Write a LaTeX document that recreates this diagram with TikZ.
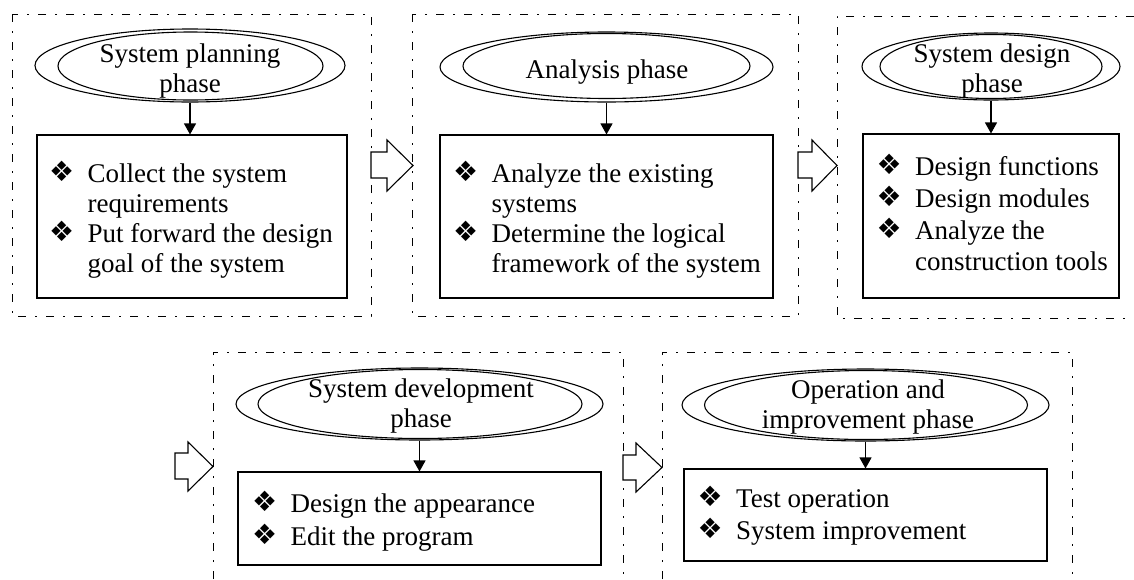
\documentclass[tikz,border=0pt]{standalone}
\usepackage{fontspec}
\setmainfont{Liberation Serif}
\newfontfamily\dv{DejaVu Sans}
\usetikzlibrary{shapes.geometric,arrows.meta}
\newcommand{\bul}{\makebox[38.5pt][l]{\raisebox{1pt}[0pt][0pt]{\dv\fontsize{28}{28}\selectfont ❖}}}
\newcommand{\ind}{\hspace*{38.5pt}}
\tikzset{
  frame/.style={line width=1pt, dash pattern=on 8pt off 9pt on 2pt off 9pt},
  phase/.style={ellipse, draw, line width=1.1pt, inner sep=0pt},
  inner/.style={line width=1.1pt},
  box/.style={draw, line width=1.1pt, inner sep=0pt},
  txt/.style={inner sep=0pt, align=left, anchor=north west},
  ttl/.style={inner sep=0pt, align=center, font=\fontsize{27}{30}\selectfont},
  conn/.style={line width=1.1pt, -{Triangle[length=11pt,width=12pt]}},
  blk/.style={line width=1.1pt, fill=white, line join=miter}
}
\begin{document}
\begin{tikzpicture}[x=1pt,y=-1pt]
\useasboundingbox (0,0) rectangle (1134,579);
% frames
\draw[frame] (12,14) rectangle (371,316);
\draw[frame] (412,14) rectangle (798,316);
\draw[frame] (1134,16) -- (837,16) -- (837,318) -- (1134,318);
\draw[frame] (213,579) -- (213,352) -- (623,352) -- (623,579);
\draw[frame] (662,579) -- (662,352) -- (1072,352) -- (1072,579);
% block arrows
\draw[blk] (371,152) -- (387,152) -- (387,140) -- (413,165.5) -- (387,191) -- (387,178) -- (371,178) -- cycle;
\draw[blk] (798,152) -- (812,152) -- (812,140) -- (837,165.5) -- (812,191) -- (812,178) -- (798,178) -- cycle;
\draw[blk] (175,453) -- (188,453) -- (188,442) -- (213,466.5) -- (188,491) -- (188,479) -- (175,479) -- cycle;
\draw[blk] (623,455) -- (636,455) -- (636,443) -- (662,467.5) -- (636,492) -- (636,480) -- (623,480) -- cycle;
% phase ellipses
\node[phase, minimum width=310pt, minimum height=73pt] (e1) at (190,65.5) {};
\draw[inner] (190.5,66) ellipse [x radius=132.5pt, y radius=34pt];
\node[phase, minimum width=333pt, minimum height=70pt] (e2) at (606.5,67) {};
\draw[inner] (606.5,66) ellipse [x radius=143.5pt, y radius=32.5pt];
\node[phase, minimum width=258pt, minimum height=67pt] (e3) at (991,66.5) {};
\draw[inner] (991,66.5) ellipse [x radius=111pt, y radius=32pt];
\node[phase, minimum width=367pt, minimum height=72pt] (e4) at (419.5,404) {};
\draw[inner] (420,404) ellipse [x radius=162pt, y radius=34.5pt];
\node[phase, minimum width=367pt, minimum height=72pt] (e5) at (865.5,405) {};
\draw[inner] (866,405) ellipse [x radius=161.5pt, y radius=34.5pt];
% phase titles
\node[ttl] (te1) at (190,71.3) {System planning\\phase};
\node[ttl] (te2) at (607,71.8) {Analysis phase};
\node[ttl] (te3) at (992,70.8) {System design\\phase};
\node[ttl] (te4) at (421,405.8) {System development\\phase};
\node[ttl] (te5) at (868,406.8) {Operation and\\improvement phase};
% boxes
\node[box, minimum width=310pt, minimum height=163pt] (b1) at (192,216.5) {};
\node[box, minimum width=333pt, minimum height=163pt] (b2) at (606.5,216.5) {};
\node[box, minimum width=256pt, minimum height=164pt] (b3) at (991,216) {};
\node[box, minimum width=363pt, minimum height=93pt] (b4) at (419.5,518.5) {};
\node[box, minimum width=363pt, minimum height=92pt] (b5) at (865.5,515) {};
% box texts
\node[txt, font=\fontsize{27}{30}\selectfont] (t1) at (49,163.5)
  {\bul Collect the system\\\ind requirements\\\bul Put forward the design\\\ind goal of the system};
\node[txt, font=\fontsize{27}{30}\selectfont] (t2) at (453,163.5)
  {\bul Analyze the existing\\\ind systems\\\bul Determine the logical\\\ind framework of the system};
\node[txt, font=\fontsize{27}{31.7}\selectfont] (t3) at (876.5,156.5)
  {\bul Design functions\\\bul Design modules\\\bul Analyze the\\\ind construction tools};
\node[txt, font=\fontsize{27}{33}\selectfont] (t4) at (252,493.5)
  {\bul Design the appearance\\\bul Edit the program};
\node[txt, font=\fontsize{27}{32}\selectfont] (t5) at (697.5,489.5)
  {\bul Test operation\\\bul System improvement};
% connectors
\draw[conn] (e1.south) -- (e1.south |- b1.north);
\draw[conn] (e2.south) -- (e2.south |- b2.north);
\draw[conn] (e3.south) -- (e3.south |- b3.north);
\draw[conn] (e4.south) -- (e4.south |- b4.north);
\draw[conn] (e5.south) -- (e5.south |- b5.north);
\end{tikzpicture}
\end{document}
